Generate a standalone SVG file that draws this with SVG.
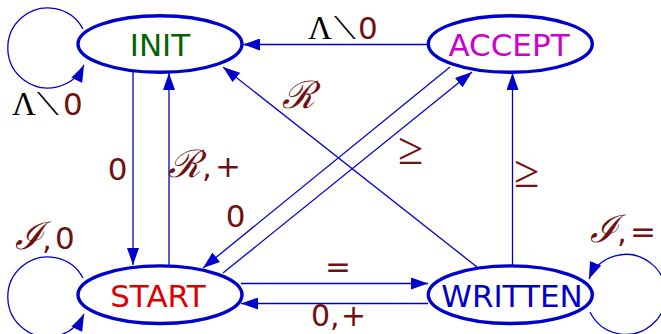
<svg xmlns="http://www.w3.org/2000/svg" width="661" height="334" viewBox="0 0 661 334">
<defs>
<marker id="arr" markerUnits="userSpaceOnUse" markerWidth="18" markerHeight="12" refX="17" refY="6" orient="auto" viewBox="0 0 18 12">
<path d="M0,0 L17,6 L0,12 Z" fill="#0000cc"/>
</marker>
<style>
.node ellipse{fill:#fff;stroke:#0000cc;stroke-width:3.4}
.node text{font-family:"DejaVu Sans",sans-serif;font-size:31px;text-anchor:middle}
.edge{fill:none;stroke:#0000cc;stroke-width:1.3;marker-end:url(#arr)}
.lbl{font-family:"DejaVu Sans",sans-serif;font-size:31px;fill:#701010}
.mid{text-anchor:middle}
.lam{font-family:"Liberation Serif","DejaVu Serif",serif;font-size:33px;fill:#000}
.dd{font-family:"DejaVu Sans",sans-serif;fill:#000}
.cal{font-family:"DejaVu Serif",serif;font-size:38px;font-style:italic}
.ge{font-family:"Liberation Serif",serif;font-size:46px}
</style>
</defs>
<g id="connectors">
<path class="edge" d="M83,29 A40,40 0 1 0 84,65"/>
<path class="edge" d="M83,278 A40,40 0 1 0 84,314"/>
<path class="edge" d="M590,312 A40,40 0 1 0 589,279"/>
<path class="edge" d="M427,44.5 L243,44.5"/>
<path class="edge" d="M133,72 L133,265"/>
<path class="edge" d="M169,265 L169,73"/>
<path class="edge" d="M477,267 L223,67"/>
<path class="edge" d="M450,67 L203,268"/>
<path class="edge" d="M223,273 L472,72"/>
<path class="edge" d="M512.5,265 L512.5,73"/>
<path class="edge" d="M241,283.5 L428,283.5"/>
<path class="edge" d="M428,303.5 L241,303.5"/>
</g>
<g id="labels">
<text y="115"><tspan class="lam" x="12">Λ</tspan><tspan class="lbl dd" x="37">⟍</tspan><tspan class="lbl" x="63">0</tspan></text>
<text y="39"><tspan class="lam" x="308">Λ</tspan><tspan class="lbl dd" x="334">⟍</tspan><tspan class="lbl" x="358">0</tspan></text>
<text class="lbl mid" x="117.5" y="180">0</text>
<text class="lbl" y="177"><tspan class="cal" x="168">ℛ</tspan><tspan x="202">,</tspan><tspan x="215">+</tspan></text>
<text class="lbl cal" x="282" y="108">ℛ</text>
<text class="lbl mid" x="235.5" y="227">0</text>
<text class="lbl mid ge" x="410.5" y="164">≥</text>
<text class="lbl mid ge" x="526.5" y="187">≥</text>
<text class="lbl" y="242"><tspan class="cal" x="590">ℐ</tspan><tspan x="617">,</tspan><tspan x="630">=</tspan></text>
<text class="lbl" y="249"><tspan class="cal" x="15">ℐ</tspan><tspan x="42">,</tspan><tspan x="55">0</tspan></text>
<text class="lbl mid" x="338" y="277">=</text>
<text class="lbl" y="326" style="font-size:30px"><tspan x="311">0</tspan><tspan x="330">,</tspan><tspan x="341">+</tspan></text>
</g>
<g id="INIT" class="node"><ellipse cx="160" cy="44" rx="82" ry="28.3"/><text x="160" y="56" fill="#006400">INIT</text></g>
<g id="ACCEPT" class="node"><ellipse cx="510.3" cy="44" rx="82" ry="28.3"/><text x="509" y="56" fill="#cc00cc">ACCEPT</text></g>
<g id="START" class="node"><ellipse cx="160" cy="294.7" rx="82" ry="28.8"/><text x="158" y="307" fill="#dd0000">START</text></g>
<g id="WRITTEN" class="node"><ellipse cx="510.3" cy="294.7" rx="82" ry="28.8"/><text x="512" y="307" fill="#0000cc">WRITTEN</text></g>
</svg>
